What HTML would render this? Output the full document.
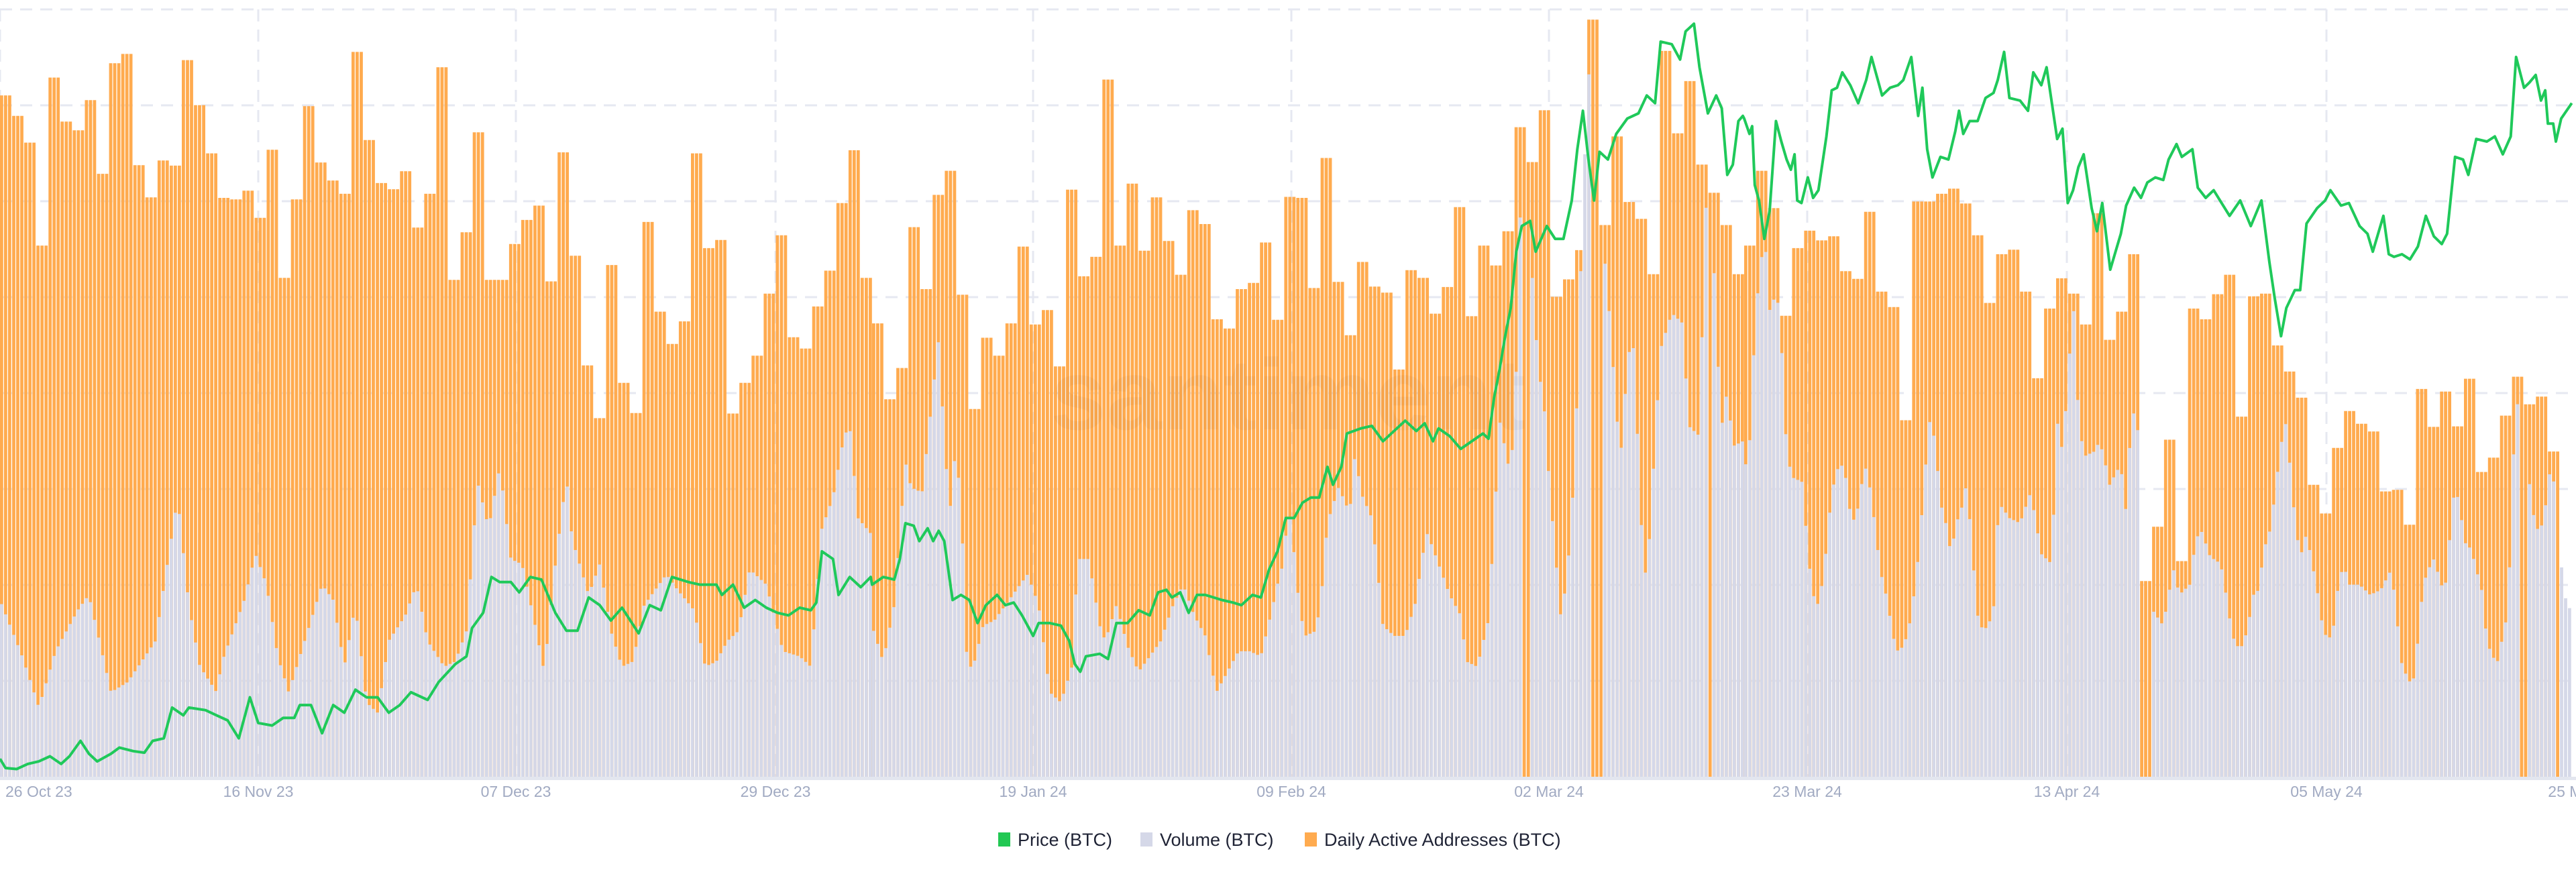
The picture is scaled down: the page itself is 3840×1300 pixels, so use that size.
<!DOCTYPE html>
<html><head><meta charset="utf-8"><style>
html,body{margin:0;padding:0;background:#fff;width:3840px;height:1300px;overflow:hidden}
svg{display:block}
</style></head><body>
<svg id="c" width="3840" height="1300" xmlns="http://www.w3.org/2000/svg" font-family="Liberation Sans, sans-serif"></svg>
<script>
const NS="http://www.w3.org/2000/svg";
const svg=document.getElementById('c');
function el(t,a,txt){const e=document.createElementNS(NS,t);for(const k in a)e.setAttribute(k,a[k]);if(txt!==undefined)e.textContent=txt;svg.appendChild(e);return e;}
const TOP=14,BOT=1158;
const Y=zy=>TOP+(zy-17)/1498*1144;
const Z=[{xo:0,s:1.208,w:1301},{xo:1300,s:1.208,w:1301},{xo:2600,s:1.2645,w:1234}];
for(let i=0;i<8;i++){const y=TOP+i*143;el('line',{x1:0,x2:3840,y1:y,y2:y,stroke:'#e6e8f1','stroke-width':3,'stroke-dasharray':'18 12'});}
const vx=[0,385,769,1156,1540,1925,2309,2694,3081,3468];
vx.forEach(x=>el('line',{x1:x,x2:x,y1:TOP,y2:BOT,stroke:'#e6e8f1','stroke-width':3,'stroke-dasharray':'18 12'}));
const OR=[
[185,225,277,478,150,236,253,194,338,122,104,321,384,312,322,116,204,298,385,388,371,424,291,541,388,206,316,351,377,100,272,356,368,333,443,377,130,545,452,257,545,545,475,428,400,548,296,498,712,815,516,746,805,432,607,670,626,298,483,467,806,746,693,572,458,657,679,597,527,395,292,541],
[630,778,717,442,563,379,332,574,797,658,693,630,480,632,604,714,369,538,500,154,478,357,488,384,469,535,409,436,622,640,563,551,472,623,383,385,561,307,549,653,510,558,570,720,526,541,611,559,403,616,478,517,450,247,315,214,578,544,487,37,438,265,393,426,534,98,259,157,320,375,438,534],
[478,332,405,615,483,449,468,460,528,543,412,568,598,819,392,392,377,367,396,458,590,495,486,568,737,601,542,572,632,415,662,607,495,1133,1027,857,1094,601,622,573,535,812,577,572,673,724,775,945,1001,873,801,826,841,958,955,1023,758,832,763,831,738,920,892,810,734,788,773,880,1515]
];
const VOL=[
[0,1170,40,1280,70,1380,100,1270,140,1190,160,1160,200,1350,230,1330,280,1250,310,1040,320,970,340,1180,360,1300,390,1350,400,1290,440,1170,460,1080,480,1140,500,1280,520,1350,560,1210,580,1140,600,1170,620,1300,640,1180,660,1370,680,1390,700,1250,730,1200,750,1140,770,1250,800,1300,820,1290,840,1230,860,940,880,1030,900,910,920,1090,940,1100,960,1200,980,1310,1000,1100,1020,930,1030,1050,1060,1160,1080,1100,1100,1230,1120,1300,1140,1290,1160,1180,1200,1120,1220,1150,1250,1190,1270,1300,1290,1290,1310,1250,1330,1230,1350,1110,1380,1140,1410,1270,1440,1280,1460,1300,1480,1030,1500,970,1520,850,1530,830,1545,1010,1568,1040],
[0,1220,20,1290,40,1180,60,900,70,950,90,960,110,760,120,660,130,860,140,1000,150,880,160,970,170,1270,180,1310,200,1220,220,1210,240,1180,260,1150,280,1120,300,1180,320,1350,340,1370,360,1300,370,1090,390,1090,410,1220,420,1250,440,1180,460,1260,480,1310,500,1280,520,1250,540,1185,560,1140,580,1200,600,1240,620,1350,640,1310,660,1270,680,1270,700,1280,720,1190,730,1140,740,1100,750,990,760,1080,770,1190,780,1240,800,1230,810,1150,820,1020,840,950,860,1000,870,880,880,960,900,1010,910,1110,920,1220,940,1240,960,1240,980,1170,990,1090,1000,1040,1020,1100,1040,1160,1060,1200,1070,1290,1090,1300,1110,1210,1120,1030,1130,820,1150,930,1160,720,1170,300,1180,310,1190,570,1200,720,1210,790,1220,950,1240,1200,1250,1140,1260,1010,1270,770,1280,380,1290,150,1300,70,1310,40,1320,520,1330,640,1340,810,1350,880,1360,700,1370,660,1380,890,1390,1140,1400,1050,1410,860,1420,680,1440,610,1460,630,1470,830,1490,850,1500,420,1510,330,1520,650,1530,830,1540,760,1550,870,1568,860],
[0,920,10,870,20,650,30,510,40,480,50,630,60,550,70,670,80,880,90,930,110,940,120,1080,130,1160,140,1180,150,1120,165,960,180,900,190,920,200,1000,210,1020,220,950,230,910,240,970,250,1060,260,1130,270,1170,280,1240,290,1270,300,1260,310,1230,320,1160,330,1070,340,930,350,820,360,860,370,980,380,1020,390,1080,400,1020,410,990,420,940,430,1080,440,1200,450,1230,460,1220,470,1190,480,980,500,1010,520,1020,540,960,560,1080,580,1100,590,820,600,880,610,750,620,580,630,810,640,890,660,880,670,860,680,900,690,950,700,920,710,910,720,1000,730,810,740,800,750,1020,760,1180,770,1190,790,1220,800,1160,810,1110,820,1160,830,1150,840,1140,850,1060,860,1030,870,1060,880,1090,890,1090,900,1110,910,1170,920,1240,930,1260,940,1260,950,1220,960,1160,970,1150,980,1070,990,1040,1000,970,1010,880,1020,820,1030,920,1040,1040,1050,1080,1060,1040,1080,1150,1090,1220,1100,1250,1110,1230,1120,1140,1130,1100,1140,1140,1160,1140,1180,1160,1200,1150,1210,1130,1220,1110,1240,1300,1260,1340,1270,1250,1280,1140,1290,1110,1300,1090,1320,1160,1330,1050,1340,940,1350,1000,1360,1060,1370,1070,1380,1110,1390,1150,1400,1250,1410,1280,1420,1290,1430,1240,1440,1190,1450,890,1460,760,1470,655,1475,840,1480,940,1490,1020,1500,1040,1510,990,1520,910,1530,960,1540,1100,1550,1180,1560,1190]
];
const PR=[
[0,1480,10,1498,30,1500,50,1490,70,1485,90,1475,110,1490,125,1475,145,1445,160,1470,175,1485,200,1470,215,1458,240,1465,260,1468,275,1445,295,1440,310,1380,330,1395,340,1380,370,1385,390,1395,410,1405,430,1440,450,1360,465,1410,490,1415,510,1400,530,1400,540,1375,560,1375,580,1430,600,1375,620,1390,640,1345,660,1360,680,1360,700,1390,720,1375,740,1350,770,1365,790,1330,820,1295,840,1280,850,1225,870,1195,885,1125,900,1135,920,1135,935,1155,955,1125,975,1130,1000,1195,1020,1230,1040,1230,1060,1165,1080,1180,1100,1210,1120,1185,1150,1235,1170,1180,1190,1190,1210,1125,1240,1135,1260,1140,1290,1140,1300,1160,1320,1140,1340,1185,1360,1170,1380,1185,1400,1195,1420,1200,1440,1185,1460,1190,1470,1175,1480,1075,1500,1090,1510,1160,1530,1125,1550,1145,1568,1125],
[0,1140,20,1125,40,1130,50,1090,60,1020,75,1025,85,1055,100,1030,110,1055,120,1035,130,1055,145,1170,160,1160,175,1170,190,1215,205,1180,225,1160,240,1180,255,1175,270,1200,290,1240,300,1215,320,1215,340,1220,355,1250,365,1295,375,1310,385,1280,410,1275,425,1285,440,1215,460,1215,480,1190,500,1200,515,1155,530,1150,540,1165,555,1155,570,1195,585,1160,600,1160,630,1170,650,1175,665,1180,685,1160,700,1165,715,1110,730,1075,745,1010,760,1010,775,980,790,970,805,970,820,910,830,945,845,910,855,845,880,835,900,830,920,860,935,845,960,820,980,840,995,825,1010,860,1020,835,1040,850,1060,875,1080,860,1100,845,1110,855,1120,775,1130,720,1140,655,1150,600,1160,490,1170,440,1185,430,1195,490,1215,440,1230,465,1245,465,1260,390,1270,290,1280,215,1290,310,1300,390,1310,295,1325,310,1340,260,1360,230,1380,220,1395,185,1410,200,1420,80,1440,85,1455,115,1465,60,1480,45,1490,130,1505,220,1520,185,1530,210,1540,340,1550,320,1560,235,1568,225],
[0,230,10,260,15,245,20,360,28,390,38,465,48,410,60,235,70,275,80,310,88,330,95,300,100,390,108,395,120,345,130,385,140,370,155,265,165,175,175,170,185,140,200,165,215,200,230,155,240,110,260,185,275,170,290,165,300,155,315,110,328,225,336,170,345,290,355,345,370,305,385,310,398,255,405,215,413,260,425,235,440,235,455,190,470,180,478,155,490,100,500,190,520,195,535,215,545,140,560,165,570,130,580,200,590,270,600,250,610,395,620,370,630,325,640,300,655,405,665,450,675,395,690,525,700,490,710,455,720,400,735,365,748,385,760,355,775,345,790,350,800,310,815,280,825,305,845,290,855,365,870,385,885,370,900,395,915,420,935,390,955,440,975,390,990,510,1000,580,1012,655,1022,600,1038,565,1048,565,1060,435,1080,405,1095,390,1105,370,1115,385,1125,400,1140,395,1160,440,1175,455,1185,490,1205,420,1215,495,1225,500,1240,495,1255,505,1270,480,1285,420,1300,460,1315,475,1325,455,1340,305,1355,310,1365,340,1380,270,1400,275,1415,265,1430,300,1445,265,1455,110,1470,170,1480,160,1492,145,1502,195,1510,175,1515,240,1525,240,1530,275,1540,230,1560,200]
];
const vp=[];
VOL.forEach((a,k)=>{for(let i=0;i<a.length;i+=2)vp.push([Z[k].xo+a[i]/Z[k].s,Y(a[i+1])]);});
vp.sort((a,b)=>a[0]-b[0]);
function vol(x){if(x<=vp[0][0])return vp[0][1];for(let i=1;i<vp.length;i++){if(x<=vp[i][0]){const a=vp[i-1],b=vp[i];const t=(x-a[0])/(b[0]-a[0]||1);return a[1]+t*(b[1]-a[1]);}}return vp[vp.length-1][1];}
const zeros=[[2272,2282],[2373,2390],[2545,2553],[3192,3206],[3758,3765],[3807,3814]];
let oPath='',gPath='';
OR.forEach((arr,k)=>{const z=Z[k];const dw=z.w/arr.length;
 arr.forEach((zy,i)=>{const top=Y(zy);const sw=dw/3;
  for(let j=0;j<3;j++){const x=z.xo+i*dw+j*sw;const w=sw-1.2;const cx=x+w/2;
   if(top<BOT-1)oPath+=`M${x.toFixed(1)} ${top.toFixed(1)}h${w.toFixed(1)}V${BOT}h${(-w).toFixed(1)}Z`;
   let vy=vol(cx);if(zeros.some(r=>cx>=r[0]&&cx<=r[1]))vy=BOT;
   if(vy<BOT-1)gPath+=`M${x.toFixed(1)} ${vy.toFixed(1)}h${w.toFixed(1)}V${BOT}h${(-w).toFixed(1)}Z`;
  }});});
el('path',{d:oPath,fill:'#ffab4f'});
el('path',{d:gPath,fill:'#d5d8e8'});
el('text',{x:1920,y:640,'font-size':150,fill:'#000','fill-opacity':0.03,'text-anchor':'middle','font-weight':'bold'},'santiment');
let pts=[];PR.forEach((a,k)=>{for(let i=0;i<a.length;i+=2)pts.push((Z[k].xo+a[i]/Z[k].s).toFixed(1)+','+Y(a[i+1]).toFixed(1));});
el('polyline',{points:pts.join(' '),fill:'none',stroke:'#1fc95a','stroke-width':4,'stroke-linejoin':'round'});
el('rect',{x:0,y:1158,width:3840,height:5,fill:'#e3e6ef'});
const labels=['26 Oct 23','16 Nov 23','07 Dec 23','29 Dec 23','19 Jan 24','09 Feb 24','02 Mar 24','23 Mar 24','13 Apr 24','05 May 24','25 May 24'];
const lx=[0,385,769,1156,1540,1925,2309,2694,3081,3468,3852];
labels.forEach((t,i)=>{el('text',{x:i==0?8:lx[i],y:1188,'font-size':23,fill:'#a1aac2','text-anchor':i==0?'start':'middle'},t);});
el('rect',{x:1488,y:1241,width:18,height:21,fill:'#22c853'});
el('text',{x:1517,y:1261,'font-size':27,fill:'#1f2335'},'Price (BTC)');
el('rect',{x:1700,y:1241,width:18,height:21,fill:'#d5d8e8'});
el('text',{x:1729,y:1261,'font-size':27,fill:'#1f2335'},'Volume (BTC)');
el('rect',{x:1945,y:1241,width:18,height:21,fill:'#ffab4f'});
el('text',{x:1974,y:1261,'font-size':27,fill:'#1f2335'},'Daily Active Addresses (BTC)');
</script>
</body></html>
